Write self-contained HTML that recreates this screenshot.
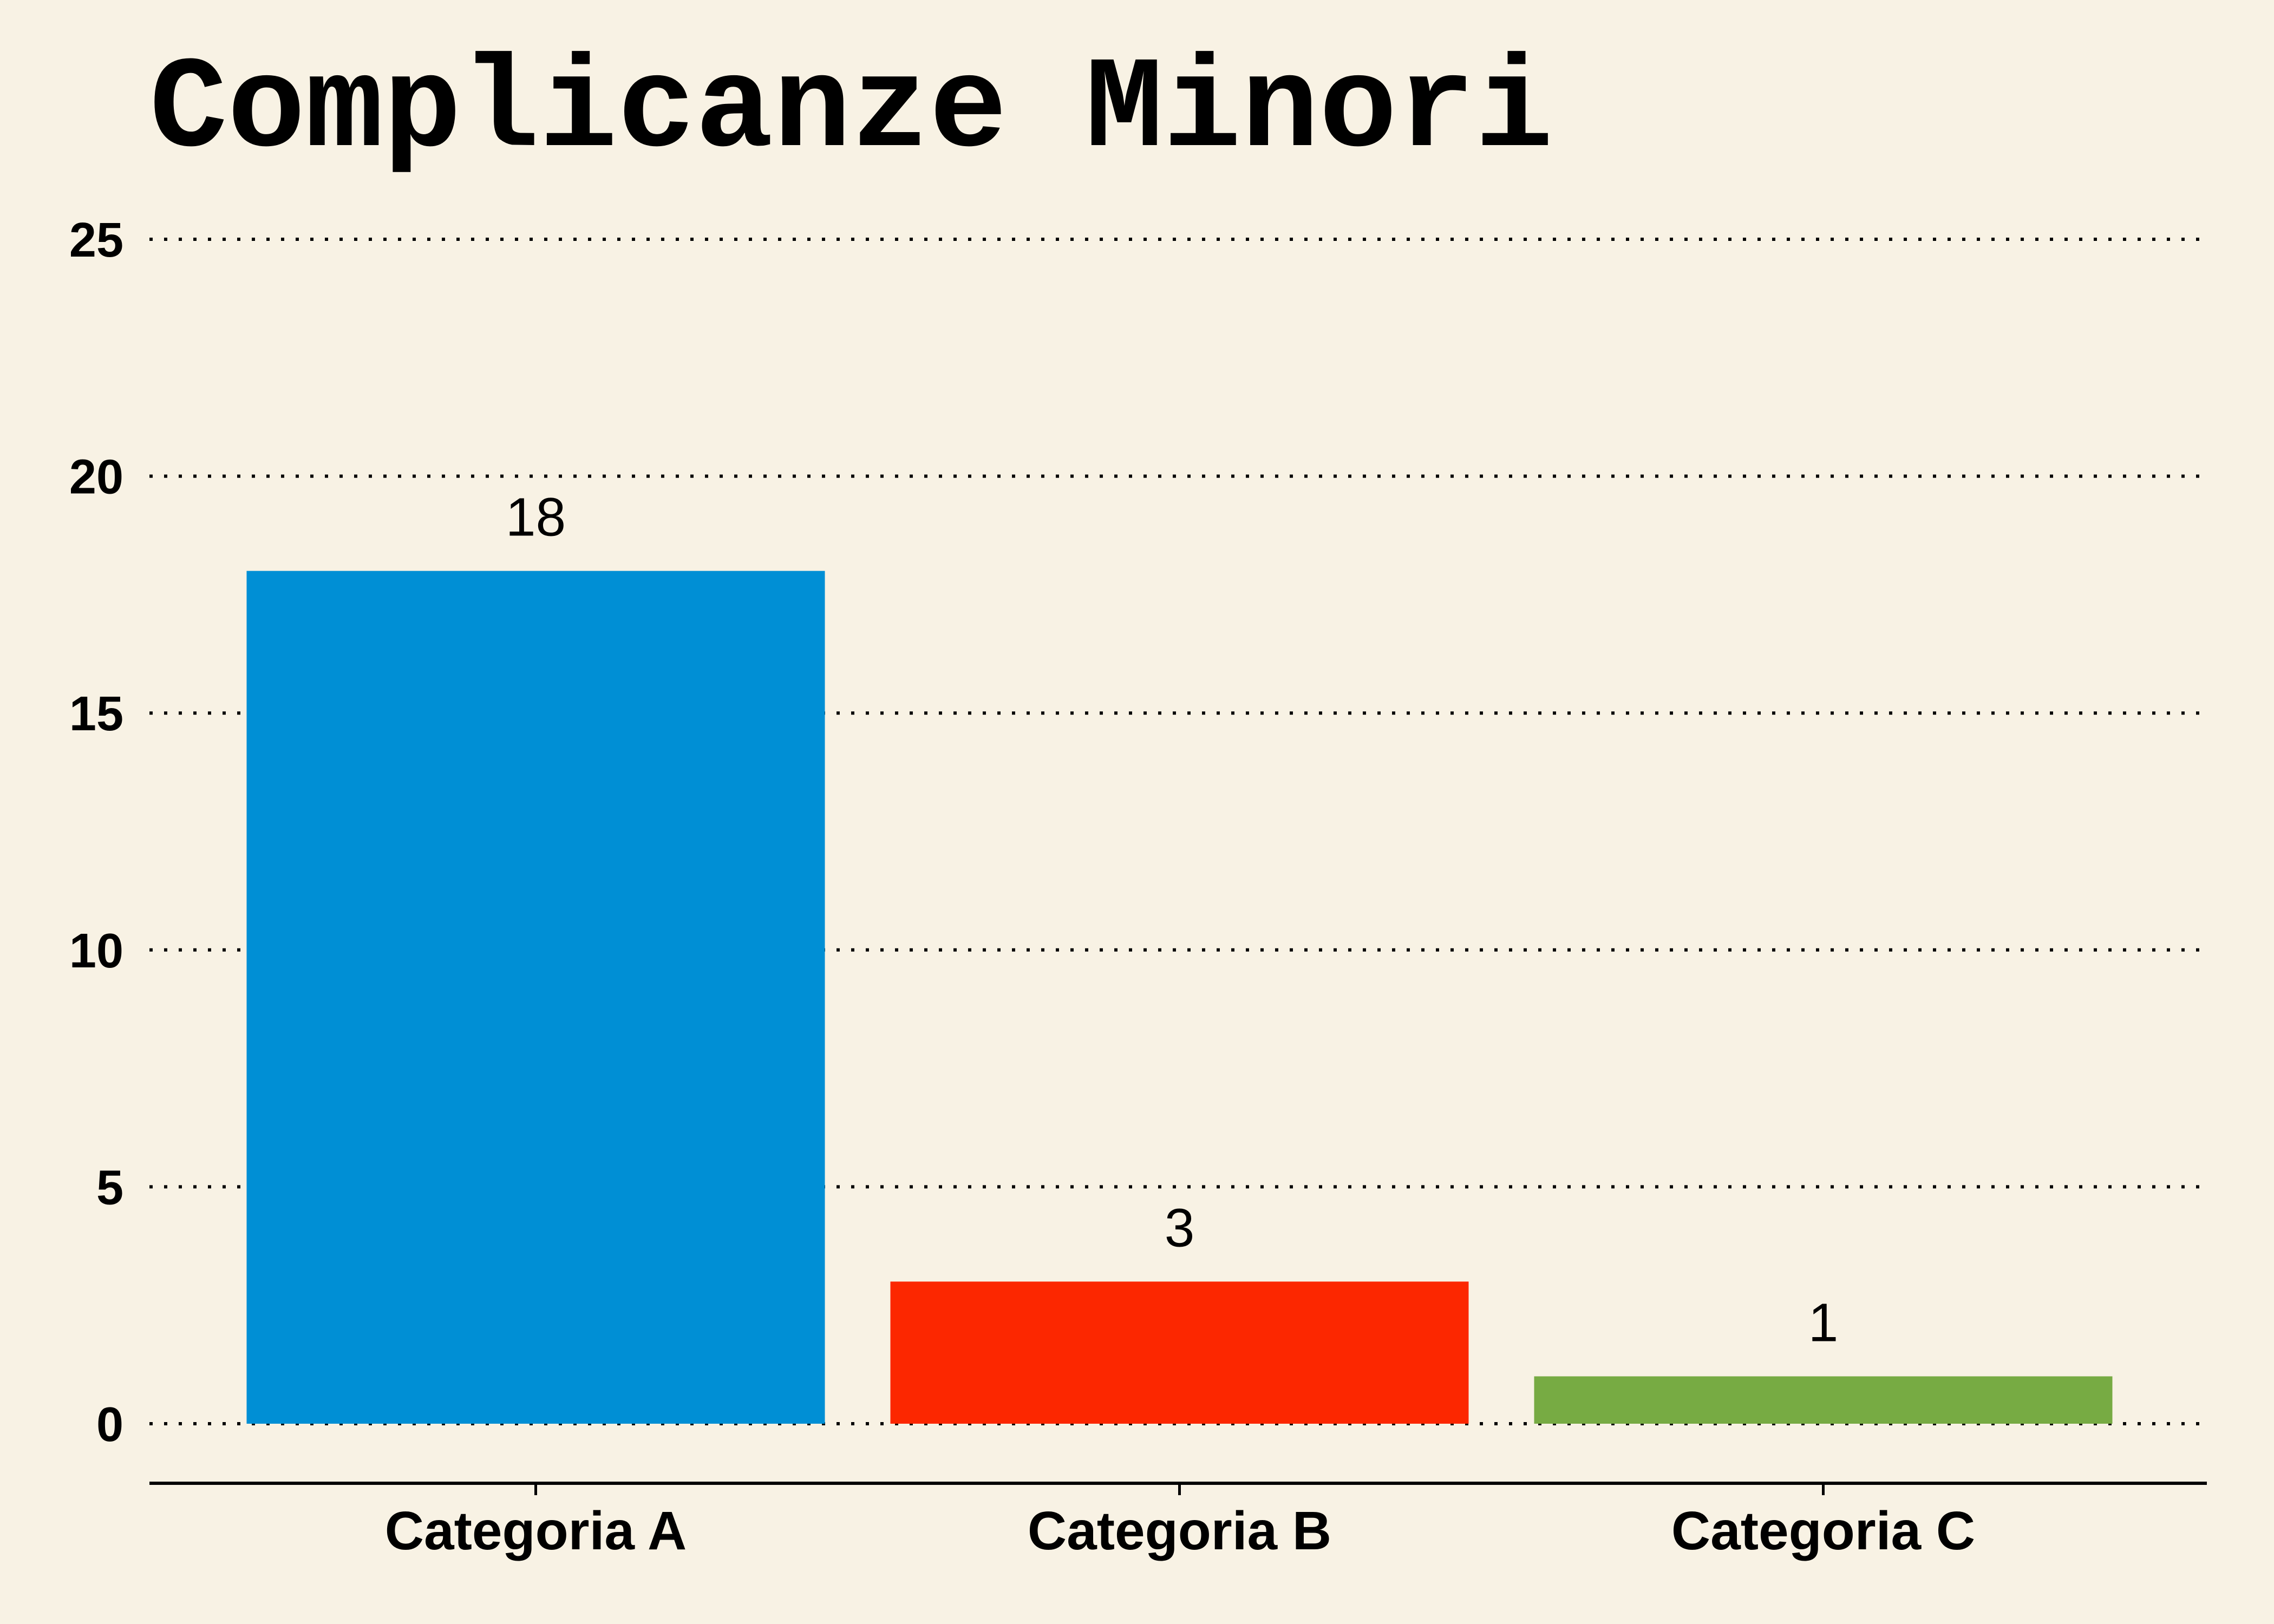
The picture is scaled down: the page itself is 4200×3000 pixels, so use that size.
<!DOCTYPE html>
<html><head><meta charset="utf-8"><style>
html,body{margin:0;padding:0;background:#f8f2e4;}
svg{display:block;}
</style></head><body>
<svg id="chart" width="4200" height="3000" xmlns="http://www.w3.org/2000/svg">
<rect x="0" y="0" width="4200" height="3000" fill="#f8f2e4"/>
<text x="276" y="268" font-family="'Liberation Mono', monospace" font-weight="bold" font-size="240" fill="#000">Complicanze Minori</text>
<g id="grid"></g>
<g id="bars"></g>
<line x1="276" y1="2740" x2="4076" y2="2740" stroke="#000" stroke-width="6"/>
</svg>
<script>
const categories = ["Categoria A", "Categoria B", "Categoria C"];
const values = [18, 3, 1];
const colors = ["#008fd5", "#fc2700", "#77ab43"];
const yTicks = [0, 5, 10, 15, 20, 25];

const NS = "http://www.w3.org/2000/svg";
const grid = document.getElementById("grid");
const barsG = document.getElementById("bars");
const plotL = 276, plotR = 4076;
const y0 = 2630, y25 = 442;
function yScale(v){ return y0 - (y0 - y25) * v / 25; }
const bandStart = 395, bandW = 1189, barW = 1068;
function xCenter(i){ return bandStart + bandW * (i + 0.5); }

function mk(tag, attrs){
  const el = document.createElementNS(NS, tag);
  for (const k in attrs) el.setAttribute(k, attrs[k]);
  return el;
}

yTicks.forEach(t => {
  const y = yScale(t);
  const ln = mk("line", {x1: plotL, x2: plotR, y1: y, y2: y, stroke: "#000", "stroke-width": 6, "stroke-dasharray": "6,21"});
  
  
  grid.appendChild(ln);
  const tx = mk("text", {x: 228, y: y + 32, "text-anchor": "end", "font-family": "'Liberation Sans', sans-serif", "font-weight": "bold", "font-size": 90, fill: "#000"});
  tx.textContent = t;
  
  
  grid.appendChild(tx);
});

categories.forEach((c, i) => {
  const cx = xCenter(i);
  const top = yScale(values[i]);
  const r = mk("rect", {x: cx - barW/2, y: top, width: barW, height: y0 - top, fill: colors[i]});
  
  
  barsG.appendChild(r);
  const vl = mk("text", {x: cx, y: top - 65, "text-anchor": "middle", "font-family": "'Liberation Sans', sans-serif", "font-size": 100, fill: "#000"});
  vl.textContent = values[i];
  
  
  barsG.appendChild(vl);
  const tk = mk("line", {x1: cx, x2: cx, y1: 2740, y2: 2762, stroke: "#000", "stroke-width": 5});
  
  
  barsG.appendChild(tk);
  const cl = mk("text", {x: cx, y: 2862, "text-anchor": "middle", "font-family": "'Liberation Sans', sans-serif", "font-weight": "bold", "font-size": 100, fill: "#000"});
  cl.textContent = c;
  
  
  barsG.appendChild(cl);
});
</script>
</body></html>
